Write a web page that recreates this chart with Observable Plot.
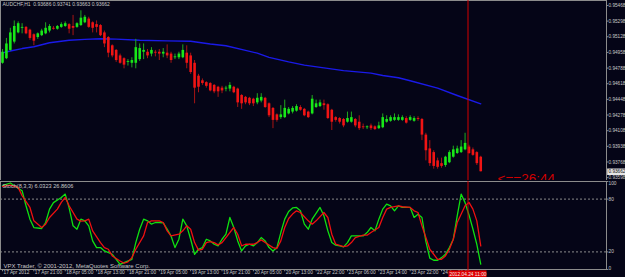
<!DOCTYPE html>
<html><head><meta charset="utf-8">
<script src="https://cdn.jsdelivr.net/npm/d3@7"></script>
<script src="https://cdn.jsdelivr.net/npm/@observablehq/plot@0.6"></script>
<style>
html,body{margin:0;padding:0;background:#050517;}
#chart{position:relative;width:625px;height:277px;overflow:hidden;background:#050517;}
#chart svg{position:absolute;left:0;}
</style></head><body><div id="chart"></div>
<script>
// ---- data ----
const titleText = "AUDCHF,H1  0.93686 0.93741 0.93663 0.93662";
const lastPrice = 0.93662;
const open = [0.9484,0.9489,0.9498,0.9507,0.9517,0.9522,0.9523,0.9520,0.9515,0.9512,
0.9514,0.9516,0.9519,0.9522,0.9521,0.9523,0.9524,0.9526,0.9524,0.9523,
0.9525,0.9528,0.9532,0.9528,0.9526,0.9525,0.9517,0.9512,0.9503,0.9498,
0.9492,0.9489,0.9485,0.9484,0.9484,0.9488,0.9496,0.9496,0.9494,0.9496,
0.9496,0.9494,0.9495,0.9494,0.9490,0.9490,0.9490,0.9495,0.9492,0.9484,
0.9470,0.9465,0.9463,0.9462,0.9460,0.9458,0.9457,0.9456,0.9456,0.9458,
0.9456,0.9449,0.9447,0.9446,0.9445,0.9441,0.9443,0.9446,0.9440,0.9435,
0.9428,0.9425,0.9425,0.9429,0.9431,0.9432,0.9436,0.9434,0.9431,0.9429,
0.9436,0.9437,0.9440,0.9439,0.9433,0.9425,0.9424,0.9423,0.9420,0.9420,
0.9423,0.9420,0.9415,0.9414,0.9416,0.9415,0.9413,0.9414,0.9420,0.9421,
0.9422,0.9422,0.9422,0.9424,0.9422,0.9421,0.9424,0.9423,0.9406,0.9391,
0.9387,0.9378,0.9375,0.9373,0.9376,0.9382,0.9386,0.9387,0.9390,0.9393,
0.9390,0.9387,0.9382];
const high = [0.9499,0.9511,0.9522,0.9530,0.9529,0.9527,0.9524,0.9521,0.9516,0.9517,
0.9521,0.9528,0.9526,0.9524,0.9525,0.9528,0.9529,0.9527,0.9536,0.9528,
0.9541,0.9536,0.9534,0.9529,0.9530,0.9526,0.9519,0.9513,0.9504,0.9499,
0.9494,0.9490,0.9488,0.9490,0.9510,0.9505,0.9505,0.9499,0.9501,0.9498,
0.9499,0.9500,0.9504,0.9496,0.9494,0.9496,0.9504,0.9503,0.9495,0.9487,
0.9472,0.9467,0.9464,0.9463,0.9461,0.9459,0.9459,0.9459,0.9463,0.9459,
0.9457,0.9450,0.9448,0.9447,0.9446,0.9451,0.9451,0.9447,0.9441,0.9436,
0.9429,0.9438,0.9444,0.9436,0.9437,0.9439,0.9438,0.9435,0.9432,0.9449,
0.9444,0.9444,0.9444,0.9440,0.9434,0.9426,0.9425,0.9424,0.9431,0.9431,
0.9424,0.9427,0.9418,0.9416,0.9418,0.9416,0.9420,0.9429,0.9427,0.9427,
0.9429,0.9428,0.9427,0.9426,0.9427,0.9426,0.9426,0.9424,0.9408,0.9400,
0.9389,0.9381,0.9381,0.9383,0.9389,0.9394,0.9394,0.9400,0.9408,0.9395,
0.9392,0.9388,0.9383];
const low = [0.9483,0.9488,0.9497,0.9505,0.9516,0.9516,0.9515,0.9509,0.9503,0.9510,
0.9513,0.9515,0.9517,0.9520,0.9520,0.9522,0.9523,0.9516,0.9514,0.9522,
0.9524,0.9527,0.9522,0.9517,0.9517,0.9513,0.9501,0.9490,0.9490,0.9485,
0.9483,0.9478,0.9481,0.9479,0.9478,0.9486,0.9488,0.9489,0.9491,0.9491,
0.9487,0.9490,0.9489,0.9484,0.9488,0.9488,0.9489,0.9478,0.9472,0.9440,
0.9452,0.9460,0.9457,0.9453,0.9451,0.9447,0.9451,0.9453,0.9453,0.9451,
0.9436,0.9434,0.9439,0.9438,0.9437,0.9439,0.9441,0.9435,0.9425,0.9413,
0.9420,0.9423,0.9424,0.9428,0.9429,0.9431,0.9432,0.9426,0.9424,0.9428,
0.9435,0.9436,0.9433,0.9423,0.9411,0.9420,0.9418,0.9414,0.9419,0.9419,
0.9414,0.9411,0.9412,0.9412,0.9411,0.9411,0.9412,0.9413,0.9419,0.9420,
0.9421,0.9421,0.9421,0.9418,0.9421,0.9420,0.9421,0.9400,0.9378,0.9372,
0.9369,0.9369,0.9370,0.9371,0.9375,0.9381,0.9385,0.9386,0.9389,0.9385,
0.9383,0.9373,0.9366];
const close = [0.9496,0.9505,0.9517,0.9524,0.9527,0.9523,0.9516,0.9511,0.9508,0.9516,
0.9519,0.9522,0.9524,0.9521,0.9524,0.9526,0.9527,0.9521,0.9522,0.9527,
0.9533,0.9534,0.9523,0.9522,0.9523,0.9514,0.9505,0.9495,0.9492,0.9487,
0.9484,0.9482,0.9486,0.9487,0.9501,0.9500,0.9498,0.9492,0.9498,0.9495,
0.9494,0.9496,0.9492,0.9487,0.9491,0.9494,0.9498,0.9484,0.9474,0.9457,
0.9458,0.9462,0.9459,0.9454,0.9453,0.9453,0.9454,0.9457,0.9460,0.9452,
0.9441,0.9440,0.9441,0.9440,0.9440,0.9446,0.9447,0.9436,0.9427,0.9422,
0.9422,0.9428,0.9435,0.9434,0.9435,0.9437,0.9433,0.9427,0.9425,0.9445,
0.9440,0.9441,0.9438,0.9424,0.9420,0.9422,0.9420,0.9416,0.9424,0.9425,
0.9416,0.9413,0.9414,0.9415,0.9413,0.9412,0.9416,0.9425,0.9423,0.9425,
0.9425,0.9425,0.9425,0.9419,0.9425,0.9424,0.9423,0.9406,0.9389,0.9375,
0.9372,0.9371,0.9372,0.9382,0.9387,0.9390,0.9391,0.9393,0.9397,0.9386,
0.9384,0.9375,0.93662];
// moving average (blue line), bar index -> value
const maBar = [0,2,5,8,12,17,21,25,29,35,42,48,53,57,62,65,68,73,77,82,87,94,97,101,104,111,116,122];
const maVal = [0.94953,0.94973,0.9500,0.9502,0.95063,0.9509,0.9510,0.95107,0.95103,0.9509,0.95083,0.9508,0.9505,0.9503,0.9498,0.9495,0.94905,0.94855,0.9482,0.9479,0.9476,0.94733,0.94707,0.94683,0.9465,0.9457,0.9449,0.9440];
// stochastic %K (green) and %D (red)
const kBar = [0,2,3,5,6,7,8,10,11,12,13,15,16,17,18,19,20,21,22,23,24,25,26,28,29,30,31,33,34,35,36,37,38,39,40,41,42,43,44,45,46,47,48,49,50,51,52,53,54,55,56,57,58,59,60,61,62,63,64,65,66,67,68,69,70,71,72,73,74,75,76,77,78,79,81,82,83,84,85,86,87,88,89,90,91,92,93,94,95,96,97,98,99,100,101,102,104,105,106,107,108,109,110,111,112,113,114,115,116,117,118,119,120,121,122];
const kVal = [95.2,98.3,95.2,89.5,72.4,57.2,47.7,46.6,53.4,68.6,76,81.9,85.7,70,49.6,45.8,57.2,55.3,49.6,32.5,24.9,24.9,21.1,17.3,11.6,5.9,7.8,11.6,30.6,45.8,57.2,55.3,51.5,53.4,53.4,53,45.8,38,24.9,34.4,57.2,49.6,34.4,17.3,23,24.9,34.4,32.5,28.7,26.8,34.4,40.1,59.1,47.7,32.5,21.1,26.8,28.7,26.8,30.6,36.3,32.5,24.9,21.1,24.9,42,57.2,66,70,70.5,66.7,51.5,45.8,57.2,70.5,61,43.9,30.6,27.6,26.8,25.7,30.6,38.2,38.2,38.2,38.2,42,47.7,43.9,57.2,68.6,74.3,72.4,66.7,72.4,70.5,70.5,59.1,62.9,59.1,32,13,10.5,10.5,13.5,17.3,24.9,34.4,61,85.7,76,62,46,28.5,6.03];
const dBar = [0,2,4,5,7,8,10,11,12,14,15,16,17,19,20,21,22,23,25,26,27,28,30,31,32,33,34,36,37,38,40,41,42,43,45,46,47,48,49,50,51,52,53,54,55,56,57,59,60,61,62,64,65,66,67,69,70,71,72,73,74,75,76,78,79,80,82,83,84,85,87,88,89,90,92,93,94,96,97,98,99,101,102,104,105,106,107,108,109,111,112,113,114,115,116,118,119,120,121,122];
const dVal = [94.5,96,93.3,83.8,70.5,55.3,47.7,51.5,59.1,68.6,76.2,81.9,72.4,57.2,55,55.3,57.2,43.9,30.6,24.9,23,15.4,9.7,7.1,8.6,13.5,23,38.2,53.4,55.3,55.3,53.4,43.9,38.2,40.1,43.9,49.6,45.8,30.6,22,23,30.6,31.8,30.6,28,30.6,36.3,47.7,40.1,26.8,28.7,28.7,30.6,33.7,30.6,24.9,23.8,32.5,47.7,58,63,66.7,64.8,55.3,51.5,55.3,64.8,59.1,40.1,28.7,26.1,26.8,30.6,36.3,39,39,42,47.7,59.1,68.6,70.5,72.4,71.3,70.5,66.7,64.8,49.6,36.3,23,11.6,11.6,15.4,23,34.4,53.4,72.4,76.2,68.6,55.3,26.86];
const priceTicks = [0.95468,0.95298,0.95128,0.94958,0.94788,0.94618,0.94448,0.94278,0.94108,0.93938,0.93768,0.93598];
const stochTop = [100];
const stochMid = [80,20];
const stochBottom = [0];
const timeBars = [0,8,16,24,32,40,48,56,64,72,80,88,96,104,112];
const timeLabels = ["17 Apr 2012","17 Apr 21:00","18 Apr 05:00","18 Apr 13:00","18 Apr 21:00","19 Apr 05:00","19 Apr 13:00","19 Apr 21:00","20 Apr 05:00","20 Apr 13:00","22 Apr 22:00","23 Apr 06:00","23 Apr 14:00","23 Apr 22:00","24 Apr 06:00"];
const markerBar = 118.75;
const markerLabel = "2012.04.24 11:00";
const timerText = "<==26:44";
const stochTitle = "Stoch(8,3,3) 6.0323 26.8606";
const copyright = "VPX Trader, \u00a9 2001-2012, MetaQuotes Software Corp.";

// ---- build ----
const bars = open.map((o,i)=>({i,o,h:high[i],l:low[i],c:close[i],up:close[i]>=o}));
const ma = maBar.map((b,i)=>({b,v:maVal[i]}));
const kLine = kBar.map((b,i)=>({b,v:kVal[i]}));
const dLine = dBar.map((b,i)=>({b,v:dVal[i]}));
const xDom = [-0.51,154.08];
const xMax = xDom[1];
const FONT = "Liberation Sans, Arial, sans-serif";
const TXT = "#c8c8c8";
const GRID = "#8c8c8c";
const MARK = "#d40000";

const pricePlot = Plot.plot({
  width:625,height:180,marginTop:0,marginLeft:0,marginBottom:0,marginRight:19,
  style:{background:"transparent",fontFamily:FONT,color:TXT},
  x:{domain:xDom,axis:null},
  y:{domain:[0.93567,0.95522],axis:null},
  marks:[
    Plot.frame({stroke:GRID}),
    Plot.line(ma,{x:"b",y:"v",stroke:"#1a1ae8",strokeWidth:1.4}),
    Plot.ruleX(bars,{x:"i",y1:"l",y2:"h",stroke:d=>d.up?"#1fa81f":"#a81414",strokeWidth:1}),
    Plot.ruleX(bars,{x:"i",y1:"o",y2:"c",stroke:d=>d.up?"#18e818":"#f01414",strokeWidth:2.6}),
    Plot.ruleX([markerBar],{x:d=>d,stroke:MARK,strokeWidth:1}),
    Plot.text([timerText],{x:[close.length-1+4.3],y:[lastPrice],text:d=>d,lineAnchor:"top",textAnchor:"start",dy:2,fontSize:13.5,fill:"#d00000"}),
    Plot.text([titleText],{frameAnchor:"top-left",dx:2,dy:2,lineAnchor:"top",fontSize:5,fill:TXT}),
    Plot.ruleY(priceTicks,{y:d=>d,x1:xMax,x2:xMax+0.6,stroke:GRID}),
    Plot.text(priceTicks,{y:d=>d,text:d=>d.toFixed(5),frameAnchor:"right",textAnchor:"start",dx:2,fontSize:4.7,fill:TXT}),
    Plot.ruleY([lastPrice],{y:d=>d,x1:xMax+0.3,x2:xMax+5,stroke:"#e6e6e6",strokeWidth:6.5}),
    Plot.text([lastPrice],{y:d=>d,text:d=>d.toFixed(5),frameAnchor:"right",textAnchor:"start",dx:2,fontSize:4.7,fill:"#111"})
  ]
});
pricePlot.style.top = "0px";

const levelText = (arr, anchor) => Plot.text(arr,{y:d=>d,text:d=>String(d),frameAnchor:"right",textAnchor:"start",dx:2,fontSize:4.8,fill:TXT,lineAnchor:anchor});

const stochPlot = Plot.plot({
  width:625,height:96,marginTop:0,marginLeft:0,marginBottom:8,marginRight:19,
  style:{background:"transparent",fontFamily:FONT,color:TXT},
  x:{domain:xDom,axis:null},
  y:{domain:[0,100],axis:null},
  marks:[
    Plot.frame({stroke:GRID}),
    Plot.ruleY(stochMid,{y:d=>d,stroke:GRID,strokeDasharray:"2,2"}),
    Plot.line(kLine,{x:"b",y:"v",stroke:"#10e010",strokeWidth:1.3}),
    Plot.line(dLine,{x:"b",y:"v",stroke:"#f01010",strokeWidth:1.3}),
    Plot.ruleY([...stochTop,...stochMid,...stochBottom],{y:d=>d,x1:xMax,x2:xMax+0.6,stroke:GRID}),
    levelText(stochTop,"top"),
    levelText(stochMid,"middle"),
    levelText(stochBottom,"bottom"),
    Plot.text([stochTitle],{frameAnchor:"top-left",dx:2,dy:3,lineAnchor:"top",fontSize:5.6,fill:TXT}),
    Plot.text([copyright],{frameAnchor:"bottom-left",dx:3,dy:-2,lineAnchor:"bottom",fontSize:6,fill:TXT}),
    Plot.ruleX(timeBars,{x:d=>d,y1:0,y2:-2.6,stroke:GRID}),
    Plot.text(timeBars,{x:d=>d,text:(d,i)=>timeLabels[i],frameAnchor:"bottom",lineAnchor:"top",textAnchor:"start",dx:1,dy:1.5,fontSize:4.8,fill:TXT}),
    Plot.ruleX([markerBar],{x:d=>d,y1:-3,y2:100,stroke:MARK,strokeWidth:1}),
    Plot.rect([markerBar],{x1:d=>d-4.85,x2:d=>d+4.85,y1:-1.6,y2:-9.5,fill:"#e00000"}),
    Plot.text([markerBar],{x:d=>d,y:-5.6,text:()=>markerLabel,fontSize:4.8,fill:"#f0f0f0"})
  ]
});
stochPlot.style.top = "181px";

const root = document.getElementById("chart");
root.appendChild(pricePlot);
root.appendChild(stochPlot);
</script>
</body></html>
